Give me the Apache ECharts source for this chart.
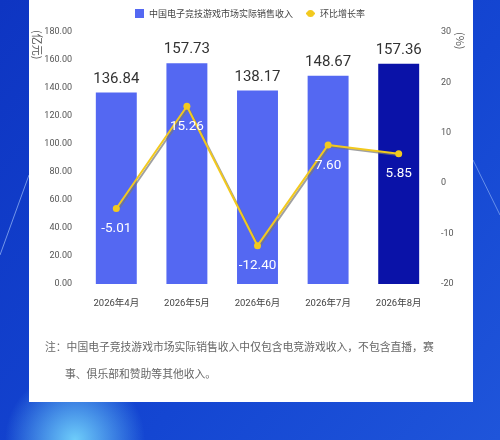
<!DOCTYPE html>
<html><head><meta charset="utf-8">
<script src="https://cdn.jsdelivr.net/npm/echarts@6/dist/echarts.min.js"></script>
<style>html,body{margin:0;padding:0;}#c{width:500px;height:440px;}</style>
</head><body><div id="c"></div>
<script>
const categories = ['2026年4月','2026年5月','2026年6月','2026年7月','2026年8月'];
const revenue = [136.84, 157.73, 138.17, 148.67, 157.36];
const growth = [-5.01, 15.26, -12.40, 7.60, 5.85];
const leftTicks = {min: 0, max: 180, interval: 20};
const rightTicks = {min: -20, max: 30, interval: 10};
const seriesNames = ['中国电子竞技游戏市场实际销售收入', '环比增长率'];
const noteLine1 = '注：中国电子竞技游戏市场实际销售收入中仅包含电竞游戏收入，不包含直播，赛';
const noteLine2 = '事、俱乐部和赞助等其他收入。';

const NARROW = "'Roboto','Noto Sans CJK SC',sans-serif";
const CJK = "'Noto Sans CJK SC',sans-serif";
const barLight = '#5468F2';
const barDark = '#0A12A8';
const lineColor = '#F2C91E';

const chart = echarts.init(document.getElementById('c'));
chart.setOption({
  backgroundColor: {
    type: 'linear', x: 0, y: 0, x2: 1, y2: 1,
    colorStops: [{offset: 0, color: '#0E35C2'}, {offset: 0.6, color: '#1446D2'}, {offset: 1, color: '#1F55DA'}]
  },
  graphic: [
    {type: 'circle', shape: {cx: 75, cy: 440, r: 70}, style: {fill: {type: 'radial', x: 0.5, y: 0.5, r: 0.5, colorStops: [{offset: 0, color: 'rgba(120,220,255,0.9)'}, {offset: 1, color: 'rgba(120,220,255,0)'}]}}, z: 0},
    {type: 'line', shape: {x1: 0, y1: 255, x2: 29, y2: 175}, style: {stroke: 'rgba(180,210,255,0.6)', lineWidth: 1}, z: 0},
    {type: 'line', shape: {x1: 473, y1: 160, x2: 500, y2: 215}, style: {stroke: 'rgba(180,210,255,0.5)', lineWidth: 1}, z: 0},
    {type: 'rect', shape: {x: 29, y: 0, width: 444, height: 402}, style: {fill: '#ffffff'}, z: 0},
    {type: 'text', x: 32, y: 30, rotation: -Math.PI / 2, style: {text: '(亿元)', fill: '#555', font: "11px " + CJK, verticalAlign: 'bottom'}, z: 1},
    {type: 'text', x: 455, y: 32, rotation: -Math.PI / 2, style: {text: '(%)', fill: '#555', font: "11px " + CJK, verticalAlign: 'bottom'}, z: 1},
    {type: 'text', left: 45, top: 342, style: {text: noteLine1, fill: '#666', font: "10.8px " + CJK}, z: 1},
    {type: 'text', left: 65, top: 369, style: {text: noteLine2, fill: '#666', font: "10.8px " + CJK}, z: 1}
  ],
  legend: {
    top: 4, left: 'center',
    itemWidth: 9, itemHeight: 9, itemGap: 12,
    textStyle: {fontFamily: CJK, fontSize: 9, color: '#444'},
    data: [
      {name: seriesNames[0], icon: 'rect'},
      {name: seriesNames[1]}
    ]
  },
  grid: {left: 81, right: 66, top: 32, bottom: 156},
  xAxis: {
    type: 'category', data: categories,
    axisLine: {show: false}, axisTick: {show: false},
    axisLabel: {margin: 15, fontFamily: NARROW, fontSize: 9.5, color: '#444'}
  },
  yAxis: [
    {type: 'value', min: leftTicks.min, max: leftTicks.max, interval: leftTicks.interval,
     splitLine: {show: false}, axisLine: {show: false}, axisTick: {show: false},
     axisLabel: {margin: 9, fontFamily: NARROW, fontSize: 9, color: '#555', formatter: v => v.toFixed(2)}},
    {type: 'value', min: rightTicks.min, max: rightTicks.max, interval: rightTicks.interval,
     splitLine: {show: false}, axisLine: {show: false}, axisTick: {show: false},
     axisLabel: {margin: 7, fontFamily: NARROW, fontSize: 9, color: '#555', align: 'left'}}
  ],
  series: [
    {
      name: seriesNames[0], type: 'bar', yAxisIndex: 0, barWidth: '58%',
      itemStyle: {color: barLight},
      data: revenue.map((v, i) => ({value: v, itemStyle: {color: i === revenue.length - 1 ? barDark : barLight}})),
      label: {show: true, position: 'top', distance: 6, fontFamily: NARROW, fontSize: 15, color: '#333', formatter: p => p.value.toFixed(2)},
      z: 2
    },
    {
      name: seriesNames[1], type: 'line', yAxisIndex: 1,
      data: growth,
      symbol: 'circle', symbolSize: 7,
      itemStyle: {color: lineColor},
      lineStyle: {color: lineColor, width: 2, shadowColor: 'rgba(120,120,120,0.7)', shadowOffsetX: 1.5, shadowOffsetY: 1.5, shadowBlur: 0},
      label: {show: true, position: 'bottom', distance: 10, fontFamily: NARROW, fontSize: 13.5, color: '#ffffff', formatter: p => p.value.toFixed(2)},
      z: 3
    }
  ]
});
</script>
</body></html>
